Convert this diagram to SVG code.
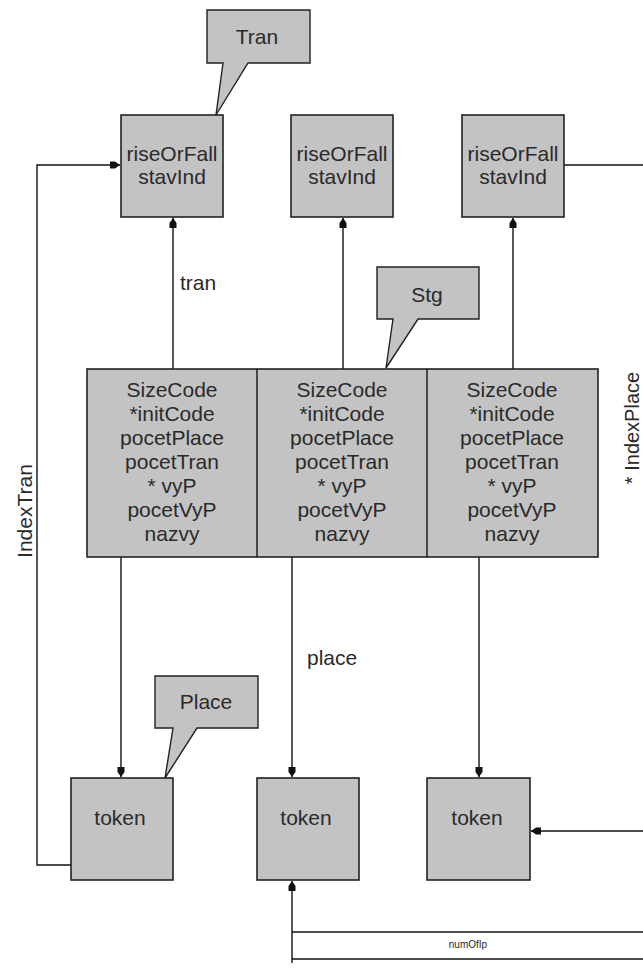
<svg xmlns="http://www.w3.org/2000/svg" width="643" height="968" viewBox="0 0 643 968">
<style>
.box{fill:#c3c3c3;stroke:#222;stroke-width:1.6}
.call{fill:#c3c3c3;stroke:#222;stroke-width:1.4;stroke-linejoin:miter}
.ln{fill:none;stroke:#111;stroke-width:1.4}
text{font-family:"Liberation Sans",Arial,sans-serif;font-size:21px;fill:#2a2a2a;text-anchor:middle}
.sm{font-size:10px}
</style>
<defs>
<marker id="ah" markerUnits="userSpaceOnUse" markerWidth="11" markerHeight="9" refX="10" refY="4.5" orient="auto">
<path d="M0,1 L5,1 L10,4.5 L5,8 L0,8 z" fill="#111"/>
</marker>
</defs>
<rect width="643" height="968" fill="#fff"/>
<g id="connectors">
<polyline class="ln" points="71,865 37,865 37,165 120,165" marker-end="url(#ah)"/>
<line class="ln" x1="173" y1="369" x2="173" y2="218" marker-end="url(#ah)"/>
<line class="ln" x1="343" y1="369" x2="343" y2="218" marker-end="url(#ah)"/>
<line class="ln" x1="513" y1="369" x2="513" y2="218" marker-end="url(#ah)"/>
<line class="ln" x1="564" y1="165" x2="643" y2="165"/>
<line class="ln" x1="121" y1="557" x2="121" y2="777" marker-end="url(#ah)"/>
<line class="ln" x1="292" y1="557" x2="292" y2="777" marker-end="url(#ah)"/>
<line class="ln" x1="479" y1="557" x2="479" y2="777" marker-end="url(#ah)"/>
<line class="ln" x1="643" y1="831" x2="531" y2="831" marker-end="url(#ah)"/>
<line class="ln" x1="292" y1="963" x2="292" y2="881" marker-end="url(#ah)"/>
<line class="ln" x1="292" y1="932" x2="643" y2="932"/>
<line class="ln" x1="292" y1="959" x2="643" y2="959"/>
<text x="180" y="290" style="text-anchor:start">tran</text>
<text x="307" y="665" style="text-anchor:start">place</text>
<text transform="translate(32,511) rotate(-90)">IndexTran</text>
<text transform="translate(639,428) rotate(-90)" style="font-size:20px">* IndexPlace</text>
<text class="sm" x="468" y="948">numOfIp</text>
</g>
<g id="tran1">
<rect class="box" x="121" y="115" width="102" height="102"/>
<text x="172" y="161">riseOrFall</text>
<text x="172" y="184">stavInd</text>
</g>
<g id="tran2">
<rect class="box" x="291" y="115" width="102" height="102"/>
<text x="342" y="161">riseOrFall</text>
<text x="342" y="184">stavInd</text>
</g>
<g id="tran3">
<rect class="box" x="462" y="115" width="102" height="102"/>
<text x="513" y="161">riseOrFall</text>
<text x="513" y="184">stavInd</text>
</g>
<g id="stg">
<rect class="box" x="87" y="369" width="511" height="188"/>
<line class="ln" x1="257" y1="369" x2="257" y2="557"/>
<line class="ln" x1="427" y1="369" x2="427" y2="557"/>
<g id="stg1">
<text x="172" y="397">SizeCode</text>
<text x="172" y="421">*initCode</text>
<text x="172" y="445">pocetPlace</text>
<text x="172" y="469">pocetTran</text>
<text x="172" y="493">* vyP</text>
<text x="172" y="517">pocetVyP</text>
<text x="172" y="541">nazvy</text>
</g>
<g id="stg2">
<text x="342" y="397">SizeCode</text>
<text x="342" y="421">*initCode</text>
<text x="342" y="445">pocetPlace</text>
<text x="342" y="469">pocetTran</text>
<text x="342" y="493">* vyP</text>
<text x="342" y="517">pocetVyP</text>
<text x="342" y="541">nazvy</text>
</g>
<g id="stg3">
<text x="512" y="397">SizeCode</text>
<text x="512" y="421">*initCode</text>
<text x="512" y="445">pocetPlace</text>
<text x="512" y="469">pocetTran</text>
<text x="512" y="493">* vyP</text>
<text x="512" y="517">pocetVyP</text>
<text x="512" y="541">nazvy</text>
</g>
</g>
<g id="token1">
<rect class="box" x="71" y="778" width="102" height="102"/>
<text x="120" y="825">token</text>
</g>
<g id="token2">
<rect class="box" x="257" y="778" width="102" height="102"/>
<text x="306" y="825">token</text>
</g>
<g id="token3">
<rect class="box" x="427" y="778" width="103" height="102"/>
<text x="477" y="825">token</text>
</g>
<g id="callout-tran">
<polygon class="call" points="207,10 310,10 310,63 248,63 216,115 223,63 207,63"/>
<text x="257" y="44">Tran</text>
</g>
<g id="callout-stg">
<polygon class="call" points="377,267 479,267 479,319 418,319 386,368 393,319 377,319"/>
<text x="427" y="302">Stg</text>
</g>
<g id="callout-place">
<polygon class="call" points="155,676 258,676 258,728 197,728 165,778 173,728 155,728"/>
<text x="206" y="709">Place</text>
</g>
</svg>
